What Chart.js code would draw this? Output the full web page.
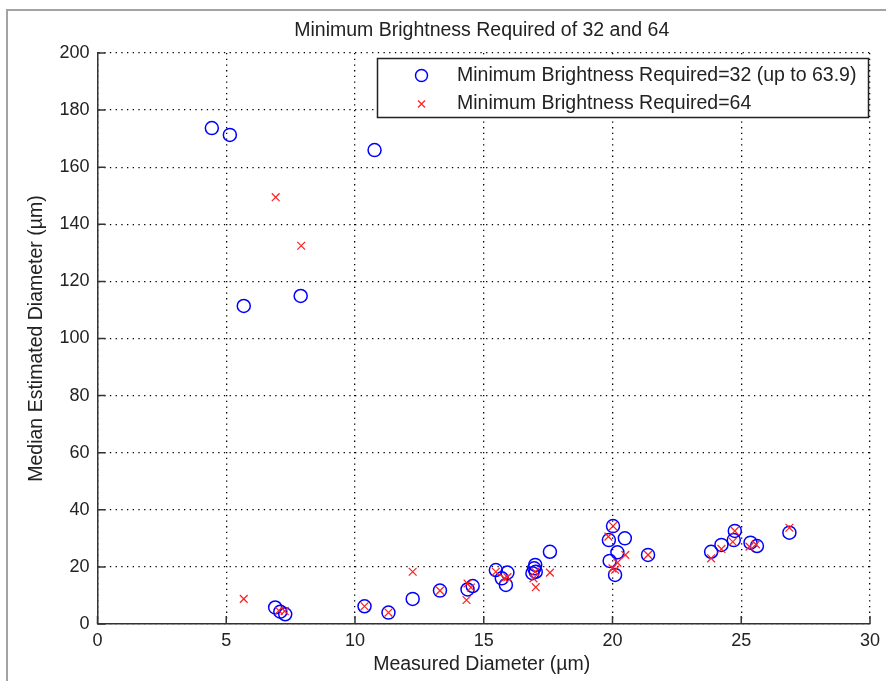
<!DOCTYPE html>
<html>
<head>
<meta charset="utf-8">
<script src="https://cdn.jsdelivr.net/npm/chart.js@4.4.0/dist/chart.umd.min.js"></script>
<style>
  html, body { margin: 0; padding: 0; background: #fff; }
  canvas { display: block; }
</style>
</head>
<body>
<canvas id="chart" width="886" height="681"></canvas>
<script>
var xTicks = [0, 5, 10, 15, 20, 25, 30];
var yTicks = [0, 20, 40, 60, 80, 100, 120, 140, 160, 180, 200];

var seriesNames = ['Minimum Brightness Required=32 (up to 63.9)', 'Minimum Brightness Required=64'];

// brightness 32 (blue circles)
var blueX = [4.44, 5.14, 5.68, 7.89, 10.76, 6.9, 7.1, 7.29, 10.37, 11.3, 12.24, 13.3, 14.37, 14.57,
  15.47, 15.92, 15.7, 15.86, 17.0, 16.96, 16.89, 17.02, 17.57, 20.02, 19.86, 20.48, 20.19, 19.89,
  20.1, 21.38, 23.83, 24.23, 24.75, 24.71, 25.36, 25.61, 26.87];
var blueY = [173.7, 171.3, 111.4, 114.9, 166.0, 5.8, 4.3, 3.4, 6.2, 4.0, 8.8, 11.7, 12.1, 13.3,
  18.9, 18.0, 16.0, 13.7, 20.7, 19.5, 17.8, 18.3, 25.3, 34.3, 29.4, 30.0, 25.1, 22.1,
  17.2, 24.2, 25.3, 27.7, 32.6, 29.4, 28.5, 27.3, 32.0];

// brightness 64 (red crosses)
var redX = [6.92, 7.91, 5.68, 7.04, 7.27, 10.37, 11.3, 12.24, 13.3, 14.37, 14.5, 14.33, 15.47,
  15.8, 15.92, 17.0, 16.93, 17.02, 17.57, 20.02, 19.84, 20.5, 20.19, 20.0, 20.1, 21.38, 23.83,
  24.23, 24.75, 24.67, 25.32, 25.57, 26.87];
var redY = [149.5, 132.5, 8.8, 4.7, 4.5, 6.2, 4.0, 18.3, 11.7, 14.2, 12.8, 8.4, 18.3,
  16.0, 16.4, 18.3, 16.0, 12.9, 18.0, 34.3, 30.6, 24.2, 21.5, 19.5, 19.0, 24.2, 23.0,
  26.3, 32.6, 28.8, 27.1, 27.9, 33.7];

function pts(xs, ys) {
  return xs.map(function(x, i) { return { x: x, y: ys[i] }; });
}

var FONT = '"Liberation Sans", Arial, sans-serif';
var INK = '#222';

var decor = {
  id: 'decor',
  beforeDraw: function(chart) {
    var ctx = chart.ctx;
    ctx.save();
    ctx.fillStyle = '#fff';
    ctx.fillRect(0, 0, chart.width, chart.height);
    ctx.strokeStyle = '#a3a3a3';
    ctx.lineWidth = 2;
    ctx.beginPath();
    ctx.moveTo(7, chart.height);
    ctx.lineTo(7, 10);
    ctx.lineTo(chart.width, 10);
    ctx.stroke();
    ctx.restore();
  },
  afterDraw: function(chart) {
    var ctx = chart.ctx, a = chart.chartArea;
    var xs = chart.scales.x, ys = chart.scales.y;
    ctx.save();

    // inward tick marks
    ctx.strokeStyle = '#333';
    ctx.lineWidth = 1.5;
    ctx.beginPath();
    xTicks.forEach(function(v) {
      var px = xs.getPixelForValue(v);
      ctx.moveTo(px, a.bottom);
      ctx.lineTo(px, a.bottom - 8);
    });
    yTicks.forEach(function(v) {
      var py = ys.getPixelForValue(v);
      ctx.moveTo(a.left, py);
      ctx.lineTo(a.left + 8, py);
    });
    ctx.stroke();

    // titles
    ctx.fillStyle = INK;
    ctx.textAlign = 'center';
    ctx.textBaseline = 'middle';
    var cx = (a.left + a.right) / 2, cy = (a.top + a.bottom) / 2;
    ctx.font = '19.5px ' + FONT;
    ctx.fillText('Minimum Brightness Required of 32 and 64', cx - 2, 31);
    ctx.fillText('Measured Diameter (\u00b5m)', cx - 2, 665);
    ctx.save();
    ctx.translate(37, cy);
    ctx.rotate(-Math.PI / 2);
    ctx.fillText('Median Estimated Diameter (\u00b5m)', 0, 0);
    ctx.restore();

    // legend
    ctx.fillStyle = '#fff';
    ctx.fillRect(377.5, 58.5, 491, 59);
    ctx.strokeStyle = '#222';
    ctx.lineWidth = 1.5;
    ctx.strokeRect(377.5, 58.5, 491, 59);

    ctx.strokeStyle = '#0000ff';
    ctx.lineWidth = 1.5;
    ctx.beginPath();
    ctx.arc(421.5, 75.5, 6, 0, Math.PI * 2);
    ctx.stroke();

    ctx.strokeStyle = '#ff2020';
    ctx.lineWidth = 1.2;
    ctx.beginPath();
    ctx.moveTo(418, 100.5); ctx.lineTo(425, 107.5);
    ctx.moveTo(425, 100.5); ctx.lineTo(418, 107.5);
    ctx.stroke();

    ctx.fillStyle = INK;
    ctx.textAlign = 'left';
    ctx.fillText(seriesNames[0], 457, 76);
    ctx.fillText(seriesNames[1], 457, 104);
    ctx.restore();
  }
};

var ctx = document.getElementById('chart').getContext('2d');
var chart = new Chart(ctx, {
  type: 'scatter',
  data: {
    datasets: [{
      label: seriesNames[0],
      data: pts(blueX, blueY),
      pointStyle: 'circle',
      pointRadius: 6.5,
      borderColor: '#0000ff',
      backgroundColor: 'rgba(0,0,0,0)',
      borderWidth: 1.5,
      order: 2
    }, {
      label: seriesNames[1],
      data: pts(redX, redY),
      pointStyle: 'crossRot',
      pointRadius: 5.5,
      borderColor: '#ff2020',
      backgroundColor: '#ff2020',
      borderWidth: 1.2,
      order: 1
    }]
  },
  options: {
    responsive: false,
    animation: false,
    events: [],
    devicePixelRatio: 1,
    layout: { padding: { top: 53, right: 15, left: 0, bottom: 0 } },
    plugins: {
      legend: { display: false },
      title: { display: false },
      tooltip: { enabled: false }
    },
    scales: {
      x: {
        type: 'linear',
        min: 0,
        max: 30,
        afterBuildTicks: function(scale) {
          scale.ticks = xTicks.map(function(v) { return { value: v }; });
        },
        afterFit: function(scale) { scale.height = 57; },
        grid: { color: '#000', lineWidth: 1.3, drawTicks: false },
        border: { display: true, color: '#333', width: 1.5, dash: [1.3, 4.4] },
        ticks: { color: INK, padding: 6, maxRotation: 0, font: { family: FONT, size: 18 } }
      },
      y: {
        type: 'linear',
        min: 0,
        max: 200,
        afterBuildTicks: function(scale) {
          scale.ticks = yTicks.map(function(v) { return { value: v }; });
        },
        afterFit: function(scale) { scale.width = 97.5; },
        grid: { color: '#000', lineWidth: 1.3, drawTicks: false },
        border: { display: true, color: '#333', width: 1.5, dash: [1.3, 4.4] },
        ticks: { color: INK, padding: 8, font: { family: FONT, size: 18 } }
      }
    }
  },
  plugins: [decor]
});
</script>
</body>
</html>
